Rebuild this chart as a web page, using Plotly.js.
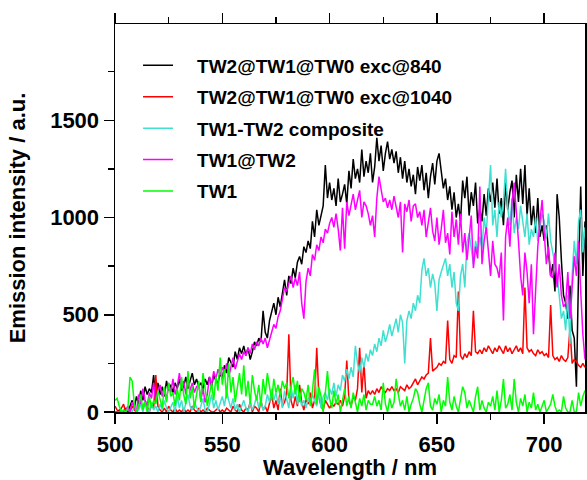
<!DOCTYPE html>
<html>
<head>
<meta charset="utf-8">
<script src="https://cdn.plot.ly/plotly-3.0.1.min.js"></script>
<style>html,body{margin:0;padding:0;background:#fff;}#chart{width:587px;height:480px;}</style>
</head>
<body>
<div id="chart"></div>
<script>
// Wavelength grid: first point and spacing (nm)
const wavelengthStart = 500;
const wavelengthStep = 1;

const seriesNames = [
  "TW2@TW1@TW0 exc@840",
  "TW2@TW1@TW0 exc@1040",
  "TW1-TW2 composite",
  "TW1@TW2",
  "TW1"
];

// Emission intensity (a.u.), 500..719 nm
const exc840 = [
  0, 0, 10, 0, 0, 20, 0, 30, 60, 20,
  80, 40, 110, 60, 130, 90, 120, 100, 190, 70,
  150, 90, 130, 80, 160, 110, 140, 100, 150, 120,
  170, 110, 130, 180, 120, 160, 200, 140, 170, 130,
  150, 120, 170, 140, 180, 130, 190, 160, 150, 200,
  170, 240, 200, 280, 250, 230, 310, 270, 330, 300,
  340, 290, 330, 270, 310, 360, 340, 380, 360, 520,
  410, 380, 470, 520, 560, 500, 590, 540, 620, 680,
  600, 700, 660, 740, 690, 770, 800, 760, 850, 820,
  880, 840, 980, 900, 1040, 960, 1010, 1060, 1270, 1100,
  1180, 1090, 1150, 1060, 1200, 1080, 1120, 1170, 1070, 1240,
  1150, 1300, 1200, 1250, 1180, 1350, 1210, 1290, 1230, 1330,
  1180, 1260, 1410, 1290, 1370, 1240, 1330, 1390, 1300, 1350,
  1280, 1340, 1230, 1310, 1200, 1290, 1180, 1250, 1160, 1220,
  1120, 1260, 1190, 1270, 1140, 1230, 1100, 1210, 1280, 1170,
  1290, 1330, 1240, 1150, 1200, 1090, 1160, 1040, 1130, 1000,
  1070, 980, 1190, 1100, 1210, 1010, 1130, 1060, 1180, 970,
  1050, 980, 1120, 1010, 1150, 1080, 1180, 1050, 1200, 1020,
  1100, 960, 1180, 1040, 1130, 1190, 1000, 1220, 1080, 1250,
  1070, 1270, 1010, 1150, 960, 1060, 920, 1100, 900, 960,
  880, 960, 820, 700, 760, 620, 1120, 1000, 780, 600,
  560, 480, 650, 420, 380, 130, 720, 1160, 700, 980
];

const exc1040 = [
  30, 10, 0, 20, 40, 0, 10, 0, 30, 10,
  0, 20, 40, 10, 60, 30, 0, 40, 20, 190,
  30, 10, 0, 20, 0, 30, 10, 0, 20, 0,
  10, 0, 20, 0, 10, 0, 30, 10, 0, 20,
  0, 10, 0, 20, 10, 0, 0, 10, 20, 0,
  10, 0, 20, 10, 0, 30, 10, 0, 40, 10,
  0, 20, 10, 50, 0, 30, 20, 0, 60, 10,
  30, 0, 40, 90, 20, 60, 10, 120, 30, 50,
  90, 400, 60, 20, 80, 30, 140, 50, 10, 70,
  40, 100, 20, 60, 330, 80, 30, 10, 60, 40,
  20, 40, 30, 50, 40, 60, 30, 80, 265, 60,
  30, 80, 60, 120, 330, 100, 250, 70, 110, 90,
  110, 90, 120, 100, 130, 110, 100, 120, 110, 130,
  110, 120, 100, 130, 120, 110, 140, 120, 130, 150,
  170, 140, 160, 180, 170, 190, 200, 380, 210, 220,
  230, 250, 240, 260, 250, 470, 270, 250, 290, 280,
  620, 290, 270, 300, 280, 310, 290, 520, 310, 300,
  320, 300, 330, 310, 340, 320, 300, 330, 310, 340,
  320, 300, 340, 310, 330, 300, 320, 340, 310, 330,
  300, 640, 330, 310, 320, 300, 290, 320, 300, 310,
  290, 300, 280, 550, 290, 270, 280, 260, 290, 270,
  260, 280, 430, 250, 270, 260, 240, 230, 250, 230
];

const composite = [
  0, 0, 0, 10, 0, 0, 20, 0, 0, 30,
  0, 10, 40, 0, 60, 20, 0, 50, 10, 30,
  0, 40, 10, 60, 20, 0, 30, 50, 0, 80,
  20, 60, 0, 40, 90, 30, 10, 50, 20, 0,
  30, 70, 10, 0, 40, 90, 20, 60, 10, 40,
  80, 30, 110, 60, 20, 70, 10, 40, 0, 30,
  60, 20, 0, 50, 10, 40, 80, 20, 60, 10,
  30, 90, 50, 120, 60, 100, 40, 80, 20, 110,
  60, 20, 130, 70, 140, 40, 90, 30, 60, 20,
  70, 40, 90, 60, 30, 110, 20, 80, 100, 60,
  120, 90, 150, 80, 140, 110, 190, 160, 220, 170,
  230, 180, 340, 250, 200, 280, 230, 300, 260, 320,
  290, 350, 310, 380, 340, 420, 360, 400, 450, 390,
  440, 480, 410, 500, 460, 250, 470, 520, 480, 560,
  520, 600, 560, 730, 790, 700, 740, 640, 710, 660,
  520, 680, 720, 750, 790, 700, 760, 640, 720, 560,
  520, 700, 760, 640, 870, 920, 840, 760, 880, 820,
  900, 840, 1000, 920, 1100, 1270, 960, 1040, 900, 1080,
  1000, 1080, 1250, 1050, 960, 1100, 920, 1000, 940, 1060,
  980, 900, 1020, 860, 940, 900, 1000, 880, 950, 1020,
  980, 900, 1020, 880, 820, 760, 700, 600, 480, 520,
  420, 600, 350, 700, 880, 760, 980, 1040, 820, 950
];

const tw1AtTw2 = [
  0, 0, 0, 0, 0, 10, 30, 0, 50, 20,
  0, 90, 40, 120, 60, 30, 100, 70, 150, 50,
  110, 140, 80, 120, 60, 150, 100, 170, 90, 130,
  200, 120, 160, 90, 170, 110, 150, 100, 130, 140,
  60, 120, 50, 90, 180, 140, 210, 170, 220, 190,
  230, 200, 250, 180, 240, 280, 220, 260, 300, 270,
  310, 290, 330, 300, 350, 320, 360, 340, 380, 350,
  380, 330, 370, 400, 450, 430, 490, 520, 580, 640,
  620, 660, 700, 640, 690, 650, 720, 560, 480, 670,
  740, 700, 810, 780, 860, 830, 900, 870, 940, 920,
  970, 1000, 950, 1020, 940, 830, 1050, 840, 1080, 1010,
  1060, 1120, 1040, 1090, 1140, 1000, 1080, 1060, 1020, 960,
  1010, 900, 1100, 1210, 1150, 1080, 1100, 1050, 1090, 1040,
  1110, 1060, 1000, 1080, 820, 1070, 1030, 1090, 980, 1060,
  1070, 1000, 1030, 960, 1040, 900, 980, 1050, 930, 880,
  1000, 860, 940, 1040, 870, 920, 810, 1030, 900, 990,
  860, 1020, 820, 920, 780, 880, 1010, 740, 850, 790,
  1160, 760, 880, 950, 820, 700, 880, 760, 740, 690,
  820, 470, 900, 1000, 850, 1080, 1180, 1050, 880, 700,
  600, 820, 720, 560, 760, 400, 620, 850, 980, 1090,
  920, 760, 850, 700, 690, 820, 640, 760, 600, 540,
  560, 720, 480, 640, 800, 700, 880, 620, 400, 270
];

const tw1 = [
  60, 70, 30, 0, 10, 0, 20, 180, 160, 40,
  0, 30, 90, 10, 50, 0, 80, 20, 60, 40,
  110, 60, 20, 130, 50, 150, 80, 100, 30, 120,
  60, 180, 90, 40, 210, 70, 130, 20, 100, 160,
  50, 200, 120, 30, 90, 150, 60, 180, 110, 280,
  140, 220, 70, 250, 100, 180, 50, 130, 200, 90,
  240, 80, 160, 40, 190, 110, 60, 140, 30, 170,
  90, 200, 130, 60, 170, 100, 140, 80, 160, 120,
  150, 70, 130, 180, 90, 160, 50, 120, 100, 60,
  140, 30, 110, 220, 40, 130, 80, 0, 100, 210,
  70, 20, 110, 40, 90, 0, 60, 120, 30, 80,
  20, 100, 50, 0, 70, 30, 90, 10, 60, 40,
  40, 80, 30, 60, 10, 150, 40, 0, 70, 20,
  50, 170, 90, 30, 60, 10, 80, 0, 40, 70,
  120, 100, 40, 0, 60, 120, 150, 30, 10, 70,
  40, 90, 0, 60, 30, 180, 50, 10, 80, 30,
  0, 70, 130, 100, 20, 60, 30, 0, 80, 130,
  10, 60, 20, 0, 50, 30, 80, 10, 110, 0,
  60, 170, 20, 40, 90, 10, 170, 50, 0, 70,
  30, 90, 0, 50, 20, 100, 10, 40, 0, 30,
  60, 0, 20, 40, 90, 30, 0, 10, 0, 80,
  20, 0, 0, 60, 0, 0, 100, 30, 80, 110
];

const seriesValues = [exc840, exc1040, composite, tw1AtTw2, tw1];
const seriesColors = ["#000000", "#ff0000", "#40e0d0", "#ff00ff", "#00ff00"];

const fontFamily = "Liberation Sans, Arial, Helvetica, sans-serif";
// gap between legend line sample and its label (two en spaces)
const legendLabelGap = "\u2002\u2002";

const traces = seriesValues.map((vals, i) => ({
  type: "scatter",
  mode: "lines",
  name: legendLabelGap + seriesNames[i],
  legendgroup: "g" + i,
  x0: wavelengthStart,
  dx: wavelengthStep,
  y: vals,
  line: { color: seriesColors[i], width: 1.5 },
  hoverinfo: "skip"
}));

const axisCommon = {
  showgrid: false,
  zeroline: false,
  showline: true,
  linecolor: "#000",
  linewidth: 1.5,
  ticks: "outside",
  ticklen: 10,
  tickwidth: 1.5,
  tickcolor: "#000",
  tickfont: { family: fontFamily, size: 22, color: "#000", weight: "bold" }
};

const layout = {
  width: 587,
  height: 480,
  margin: { l: 115, r: 2, t: 24, b: 68 },
  paper_bgcolor: "#fff",
  plot_bgcolor: "#fff",
  showlegend: true,
  legend: {
    x: 0.049, xanchor: "left",
    y: 0.942, yanchor: "top",
    bgcolor: "rgba(0,0,0,0)",
    borderwidth: 0,
    itemwidth: 30,
    traceorder: "grouped",
    tracegroupgap: 3.7,
    font: { family: fontFamily, size: 19, color: "#000", weight: "bold" }
  },
  xaxis: Object.assign({}, axisCommon, {
    range: [500, 719],
    tick0: 500,
    dtick: 50,
    mirror: "allticks",
    ticklabelstandoff: 2,
    minor: { dtick: 25, ticks: "outside", ticklen: 6, tickwidth: 1.5, tickcolor: "#000" },
    title: { text: "Wavelength / nm", font: { family: fontFamily, size: 22, color: "#000", weight: "bold" }, standoff: 16 }
  }),
  yaxis: Object.assign({}, axisCommon, {
    range: [0, 1995],
    tick0: 0,
    dtick: 500,
    mirror: true,
    minor: { dtick: 250, ticks: "outside", ticklen: 6, tickwidth: 1.5, tickcolor: "#000" },
    title: { text: "Emission intensity / a.u.", font: { family: fontFamily, size: 22, color: "#000", weight: "bold" }, standoff: 18 }
  })
};

Plotly.newPlot("chart", traces, layout, { staticPlot: true, displayModeBar: false });
</script>
</body>
</html>
